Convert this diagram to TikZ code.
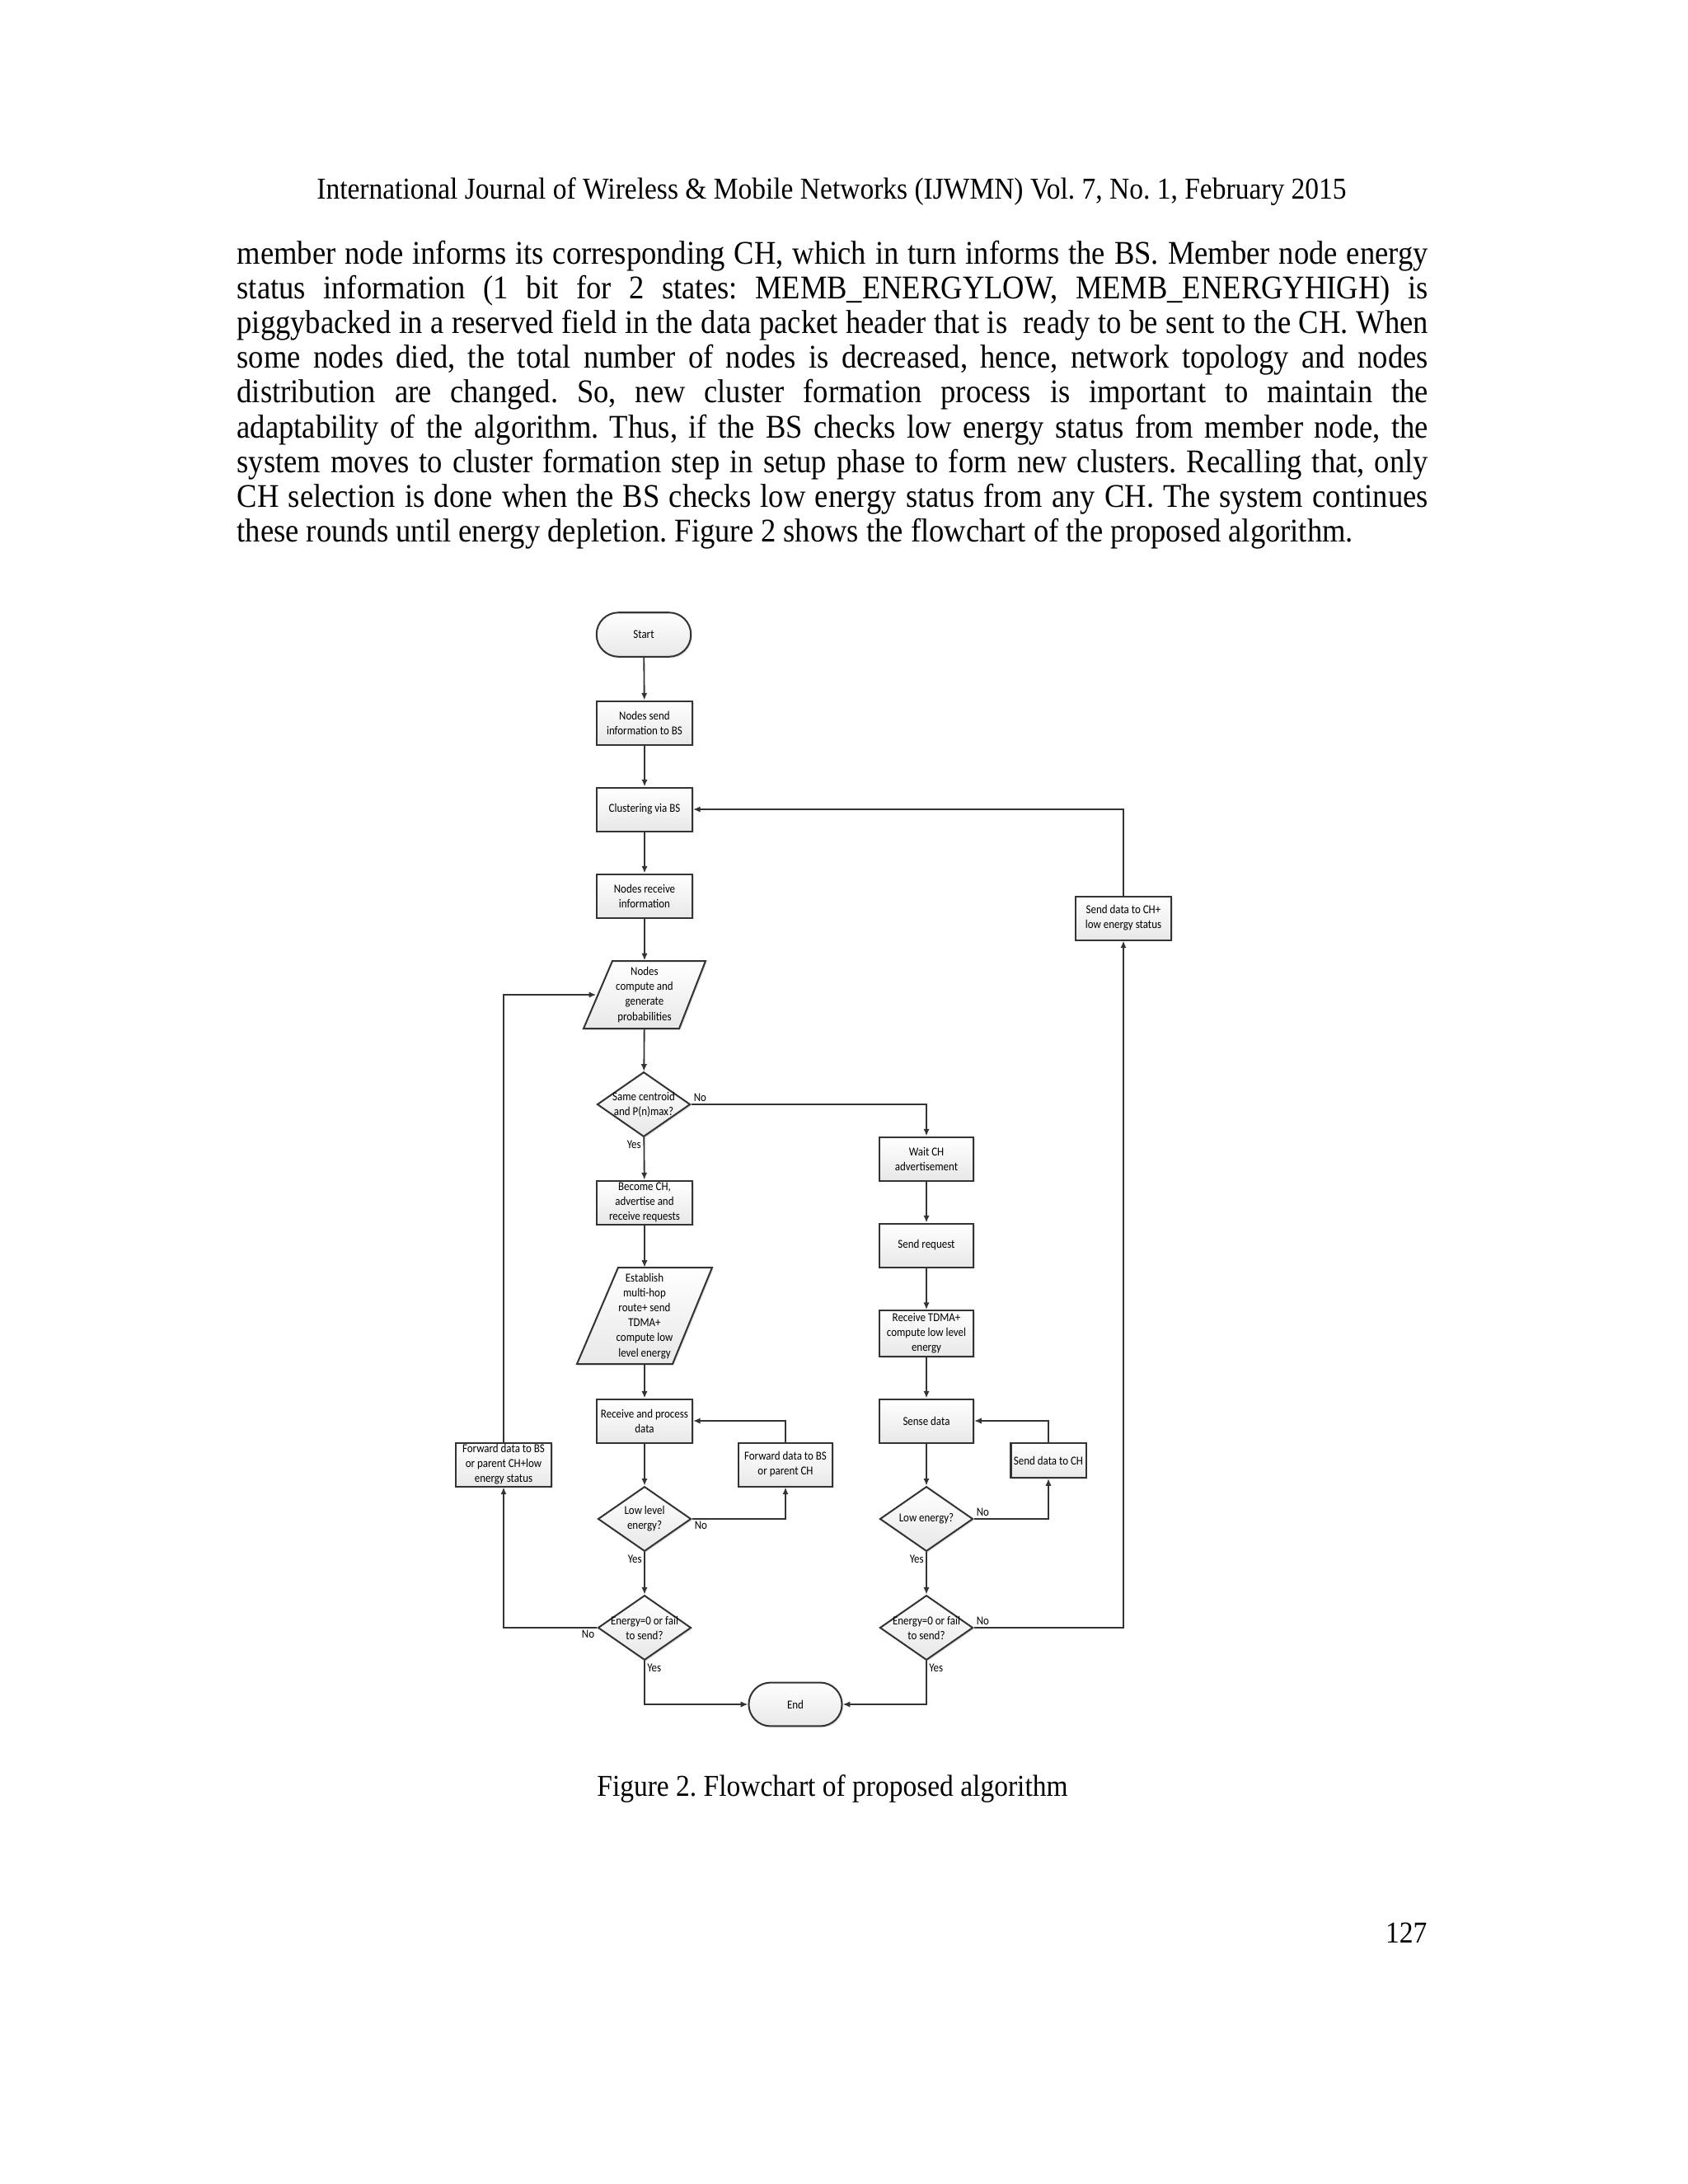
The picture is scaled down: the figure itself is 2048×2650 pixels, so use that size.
\documentclass[tikz,border=0pt]{standalone}
\usepackage{fontspec}
\setmainfont{Liberation Serif}[FakeStretch=0.91]
\newfontfamily\flowfont{Carlito}[FakeStretch=0.88]
\usetikzlibrary{arrows.meta,shadows,shapes.geometric}
\newcommand\zl[1]{\makebox[0pt]{#1}}
\newcommand\bl[1]{\makebox[431.8pt][s]{#1}}
\begin{document}
\begin{tikzpicture}[x=0.29883pt,y=-0.29883pt,
  fc/.style={draw=black!80, line width=0.6pt, top color=white, bottom color=black!9,
     drop shadow={shadow xshift=0.5pt,shadow yshift=-0.5pt,opacity=0.25}},
  ftxt/.style={font=\flowfont\fontsize{4.4pt}{5.4pt}\selectfont, align=center, text=black},
  proc/.style={fc, ftxt, rectangle, minimum width=34.66pt, minimum height=15.84pt, inner sep=0pt},
  smallproc/.style={fc, ftxt, rectangle, minimum width=27.2pt, minimum height=12.6pt, inner sep=0pt},
  term/.style={fc, ftxt, rectangle, rounded corners=7.9pt, minimum width=34.2pt, minimum height=16pt, inner sep=0pt},
  dec/.style={fc, ftxt, diamond, minimum width=33.77pt, minimum height=23.5pt, inner sep=0pt},
  iobox/.style={ftxt, rectangle, minimum width=34.66pt, inner sep=0pt},
  conn/.style={draw=black!80, line width=0.55pt, -{Latex[length=2.6pt,width=2.2pt]}},
  lbl/.style={ftxt, inner sep=0.8pt},
  body/.style={font=\fontsize{12pt}{12.6pt}\selectfont\frenchspacing, inner sep=0pt},
  small/.style={font=\fontsize{11pt}{12.6pt}\selectfont\frenchspacing, inner sep=0pt}]
\fill[white] (0,0) rectangle (2048,2650);
\useasboundingbox (0,0) rectangle (2048,2650);

% ---- page text ----
\node[small, anchor=base] (hdr) at (1009,241) {International Journal of Wireless \& Mobile Networks (IJWMN) Vol. 7, No. 1, February 2015};
\node[body, anchor=base west] (l1) at (287,320.0) {\bl{member node informs its corresponding CH, which in turn informs the BS. Member node energy}};
\node[body, anchor=base west] (l2) at (287,362.2) {\bl{status information (1 bit for 2 states: MEMB\_ENERGYLOW, MEMB\_ENERGYHIGH) is}};
\node[body, anchor=base west] (l3) at (287,404.4) {\bl{piggybacked in a reserved field in the data packet header that is \ ready to be sent to the CH. When}};
\node[body, anchor=base west] (l4) at (287,446.6) {\bl{some nodes died, the total number of nodes is decreased, hence, network topology and nodes}};
\node[body, anchor=base west] (l5) at (287,488.8) {\bl{distribution are changed. So, new cluster formation process is important to maintain the}};
\node[body, anchor=base west] (l6) at (287,531.0) {\bl{adaptability of the algorithm. Thus, if the BS checks low energy status from member node, the}};
\node[body, anchor=base west] (l7) at (287,573.2) {\bl{system moves to cluster formation step in setup phase to form new clusters. Recalling that, only}};
\node[body, anchor=base west] (l8) at (287,615.4) {\bl{CH selection is done when the BS checks low energy status from any CH. The system continues}};
\node[body, anchor=base west] (l9) at (287,657.6) {these rounds until energy depletion. Figure 2 shows the flowchart of the proposed algorithm.};
\node[small, anchor=base] (cap) at (1010,2179) {Figure 2. Flowchart of proposed algorithm};
\node[small, anchor=base east] (pg) at (1732,2357) {127};

% ---- flowchart: left/main column ----
\node[term] (start) at (781,770) {Start};
\node[proc] (n1) at (782,877) {Nodes send\\information to BS};
\node[proc] (n2) at (782,982) {Clustering via BS};
\node[proc] (n3) at (782,1087) {Nodes receive\\information};
\filldraw[fc] (708,1248) -- (824,1248) -- (856,1166) -- (743,1166) -- cycle;
\node[iobox, minimum height=24.5pt] (p1) at (782,1207) {Nodes\\compute and\\generate\\probabilities};
\node[dec] (d1) at (781,1340) {\zl{Same centroid}\\\zl{and P(n)max?}};
\node[proc] (b1) at (782,1459) {Become CH,\\advertise and\\receive requests};
\filldraw[fc] (700,1655) -- (816,1655) -- (864,1538) -- (750,1538) -- cycle;
\node[iobox, minimum height=35pt] (p2) at (782,1597) {Establish\\multi-hop\\route+ send\\TDMA+\\compute low\\level energy};
\node[proc] (b2) at (782,1724) {Receive and process\\data};
\node[proc, minimum width=34.1pt] (f1) at (953,1777) {Forward data to BS\\or parent CH};
\node[proc] (f0) at (611,1777) {Forward data to BS\\or parent CH+low\\energy status};
\node[dec] (d2) at (782,1843) {\zl{Low level}\\\zl{energy?}};
\node[dec] (d3) at (782,1975) {\zl{Energy=0 or fail}\\\zl{to send?}};
\node[term, minimum width=33.8pt, minimum height=15.8pt] (end) at (965,2068) {End};

% ---- right column ----
\node[proc, minimum width=34.1pt] (w1) at (1124,1406) {Wait CH\\advertisement};
\node[proc, minimum width=34.1pt] (w2) at (1124,1511) {Send request};
\node[proc, minimum width=34.1pt, minimum height=16.7pt] (w3) at (1124,1618) {Receive TDMA+\\compute low level\\energy};
\node[proc, minimum width=34.1pt] (w4) at (1124,1724) {Sense data};
\node[smallproc] (s1) at (1272,1772) {Send data to CH};
\node[dec] (d4) at (1124,1843) {\zl{Low energy?}};
\node[dec] (d5) at (1124,1975) {\zl{Energy=0 or fail}\\\zl{to send?}};
\node[proc] (s2) at (1363,1114) {Send data to CH+\\low energy status};

% ---- connectors ----
\draw[conn] (start) -- (n1);
\draw[conn] (n1) -- (n2);
\draw[conn] (n2) -- (n3);
\draw[conn] (n3) -- (p1);
\draw[conn] (p1) -- (d1);
\draw[conn] (d1.east) -| (w1.north);
\node[lbl, anchor=south west] at (d1.east) {No};
\draw[conn] (d1) -- (b1);
\node[lbl, anchor=north east] at (d1.south) {Yes};
\draw[conn] (b1) -- (p2);
\draw[conn] (p2) -- (b2);
\draw[conn] (b2) -- (d2);
\draw[conn] (d2.east) -| (f1.south);
\node[lbl, anchor=north west] at (d2.east) {No};
\draw[conn] (f1.north) |- (b2.east);
\draw[conn] (d2) -- (d3);
\node[lbl, anchor=north east] at (d2.south) {Yes};
\draw[conn] (d3.west) -| (f0.south);
\node[lbl, anchor=north east] at (d3.west) {No};
\draw[conn] (f0.north) |- (p1.west);
\draw[conn] (d3.south) |- (end.west);
\node[lbl, anchor=north west] at (d3.south) {Yes};

\draw[conn] (w1) -- (w2);
\draw[conn] (w2) -- (w3);
\draw[conn] (w3) -- (w4);
\draw[conn] (w4) -- (d4);
\draw[conn] (d4.east) -| (s1.south);
\node[lbl, anchor=south west] at (d4.east) {No};
\draw[conn] (s1.north) |- (w4.east);
\draw[conn] (d4) -- (d5);
\node[lbl, anchor=north east] at (d4.south) {Yes};
\draw[conn] (d5.east) -| (s2.south);
\node[lbl, anchor=south west] at (d5.east) {No};
\draw[conn] (s2.north) |- (n2.east);
\draw[conn] (d5.south) |- (end.east);
\node[lbl, anchor=north west] at (d5.south) {Yes};
\end{tikzpicture}
\end{document}
